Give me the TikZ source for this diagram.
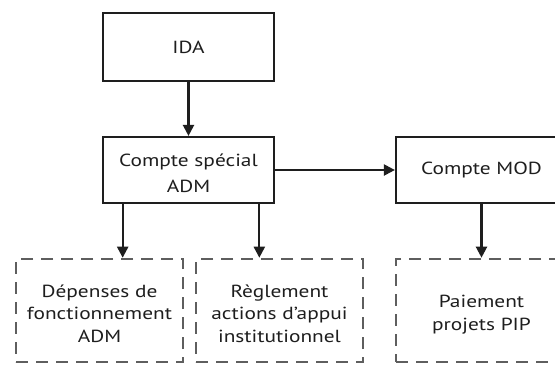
\documentclass[tikz,border=0pt]{standalone}
\usepackage{fontspec}
\setmainfont{PT Sans}[FakeStretch=1.22]
\usetikzlibrary{arrows.meta,calc}
\definecolor{ink}{HTML}{1E1E1E}
\definecolor{dashgray}{HTML}{5E5E5E}
\tikzset{
  solidbox/.style={draw=ink, line width=2.2pt, minimum width=171pt, inner sep=0pt},
  dashbox/.style={draw=dashgray, line width=2.6pt, dash pattern=on 12pt off 8pt, minimum width=167pt, minimum height=103pt, inner sep=0pt},
  boxtext/.style={text=ink, align=center, inner sep=0pt, font=\fontsize{17.5}{26}\selectfont},
  dashtext/.style={text=ink, align=center, inner sep=0pt, font=\fontsize{17.5}{22.5}\selectfont},
  arr/.style={draw=ink, line width=2.2pt, -{Triangle[length=11pt,width=11pt]}}
}
\begin{document}
\begin{tikzpicture}[x=1pt,y=-1pt]
\useasboundingbox (0,0) rectangle (555,365);
\clip (0,0) rectangle (555,365);
\fill[white] (0,0) rectangle (555,365);
\node[solidbox, minimum height=67.7pt, label={[boxtext]center:IDA}] (ida) at (188.5,47.2) {};
\node[solidbox, minimum height=66pt, label={[boxtext, yshift=-3pt]center:Compte spécial\\ADM}] (cs) at (188.5,170) {};
\node[solidbox, minimum height=66pt, label={[boxtext]center:Compte MOD}] (mod) at (481.5,170) {};
\node[dashbox, label={[dashtext, yshift=-3pt]center:Dépenses de\\fonctionnement\\ADM}] (dep) at (99.5,310.5) {};
\node[dashbox, label={[dashtext, yshift=-3pt]center:Règlement\\actions d'appui\\institutionnel}] (reg) at (279.5,310.5) {};
\node[dashbox, minimum width=171pt, label={[dashtext, yshift=-4pt]center:Paiement\\projets PIP}] (pai) at (481.5,310.5) {};
\draw[arr] (ida.south) -- (cs.north);
\draw[arr] (cs.east) -- (mod.west);
\draw[arr] ($(cs.south west)!0.12!(cs.south east)$) coordinate (a1) -- (a1 |- dep.north);
\draw[arr] ($(cs.south west)!0.909!(cs.south east)$) coordinate (a2) -- (a2 |- reg.north);
\draw[arr] (mod.south) -- (pai.north);
\end{tikzpicture}
\end{document}
